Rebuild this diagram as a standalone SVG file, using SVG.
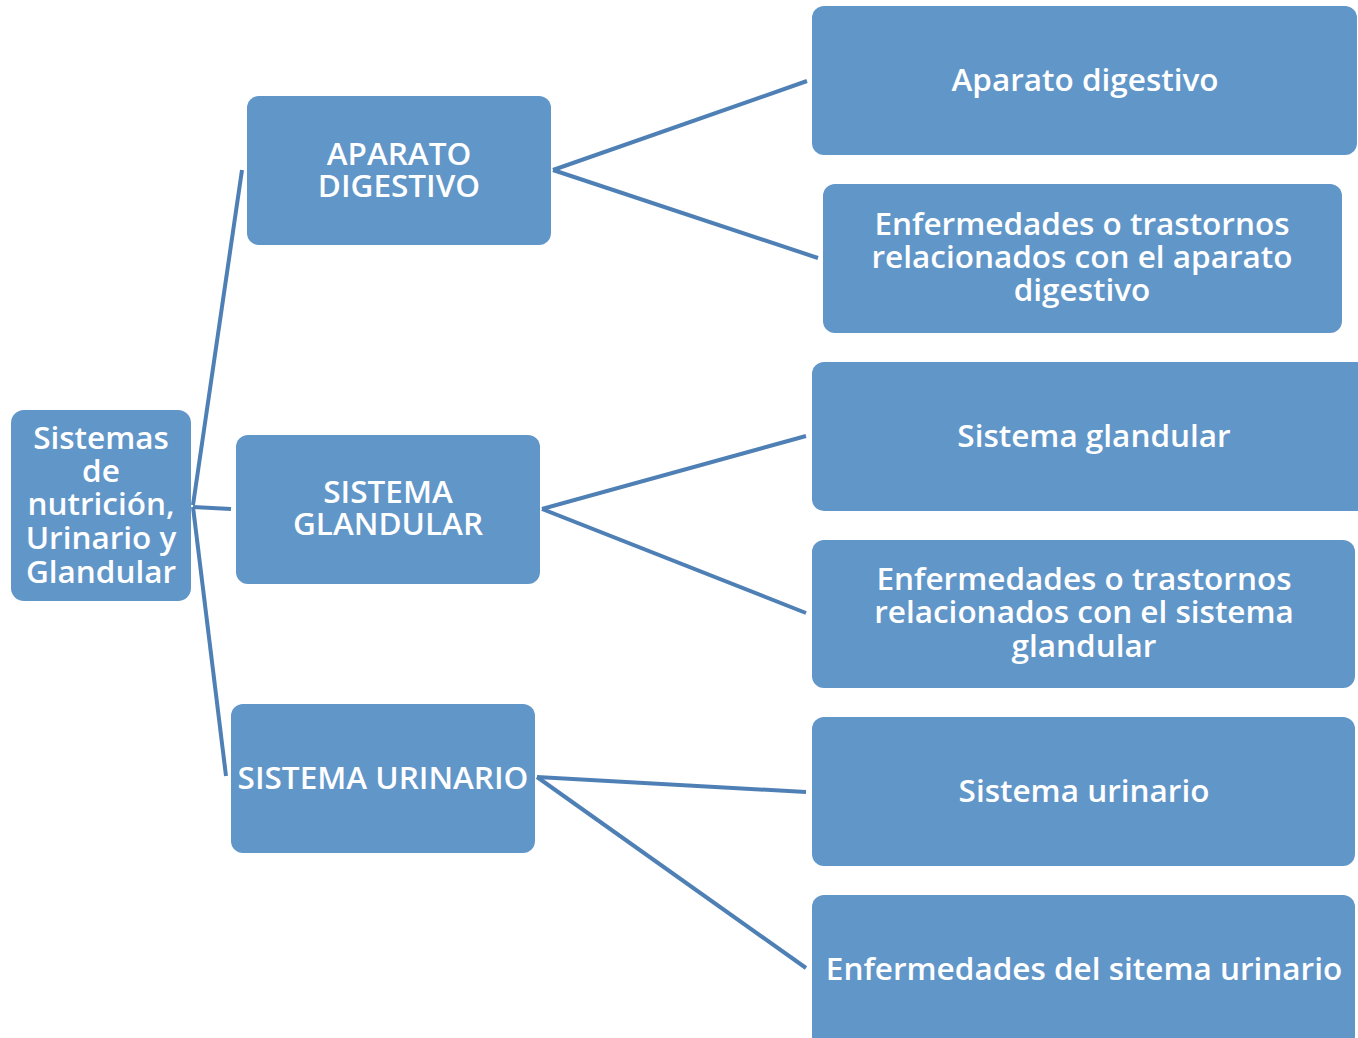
<svg xmlns="http://www.w3.org/2000/svg" width="1358" height="1038" viewBox="0 0 1358 1038">
<style>
.box{fill:#6196c9;}
.t{font-family:"Open Sans","Noto Sans",sans-serif;font-size:31.5px;font-weight:600;fill:#ffffff;text-anchor:middle;}
.c{stroke:#4f80b5;stroke-width:4;fill:none;stroke-linecap:butt;}
</style>
<rect width="1358" height="1038" fill="#ffffff"/>
<g id="connectors">
<line class="c" x1="193" y1="505" x2="242" y2="170"/>
<line class="c" x1="193" y1="507" x2="231" y2="509"/>
<line class="c" x1="193" y1="507" x2="226" y2="776"/>
<line class="c" x1="553" y1="170" x2="807" y2="81"/>
<line class="c" x1="553" y1="170" x2="818" y2="258"/>
<line class="c" x1="542" y1="509" x2="806" y2="436"/>
<line class="c" x1="542" y1="509" x2="806" y2="613"/>
<line class="c" x1="537" y1="777" x2="806" y2="792"/>
<line class="c" x1="537" y1="777" x2="806" y2="968"/>
</g>
<g id="root">
<rect class="box" x="11" y="410" width="180" height="191" rx="13"/>
<text class="t" x="101" y="449">Sistemas</text>
<text class="t" x="101" y="482">de</text>
<text class="t" x="101" y="515">nutrición,</text>
<text class="t" x="101" y="549">Urinario y</text>
<text class="t" x="101" y="583">Glandular</text>
</g>
<g id="aparato">
<rect class="box" x="247" y="96" width="304" height="149" rx="12"/>
<text class="t" x="399" y="165">APARATO</text>
<text class="t" x="399" y="197">DIGESTIVO</text>
</g>
<g id="glandular">
<rect class="box" x="236" y="435" width="304" height="149" rx="12"/>
<text class="t" x="388" y="503">SISTEMA</text>
<text class="t" x="388" y="535">GLANDULAR</text>
</g>
<g id="urinario">
<rect class="box" x="231" y="704" width="304" height="149" rx="12"/>
<text class="t" x="383" y="789">SISTEMA URINARIO</text>
</g>
<g id="aparato-digestivo">
<rect class="box" x="812" y="6" width="545" height="149" rx="12"/>
<text class="t" x="1085" y="91">Aparato digestivo</text>
</g>
<g id="enf-digestivo">
<rect class="box" x="823" y="184" width="519" height="149" rx="12"/>
<text class="t" x="1082" y="235">Enfermedades o trastornos</text>
<text class="t" x="1082" y="268">relacionados con el aparato</text>
<text class="t" x="1082" y="301">digestivo</text>
</g>
<g id="sistema-glandular">
<rect class="box" x="812" y="362" width="564" height="149" rx="12"/>
<text class="t" x="1094" y="447">Sistema glandular</text>
</g>
<g id="enf-glandular">
<rect class="box" x="812" y="540" width="543" height="148" rx="12"/>
<text class="t" x="1084" y="590">Enfermedades o trastornos</text>
<text class="t" x="1084" y="623">relacionados con el sistema</text>
<text class="t" x="1084" y="657">glandular</text>
</g>
<g id="sistema-urinario">
<rect class="box" x="812" y="717" width="543" height="149" rx="12"/>
<text class="t" x="1084" y="802">Sistema urinario</text>
</g>
<g id="enf-urinario">
<rect class="box" x="812" y="895" width="543" height="160" rx="12"/>
<text class="t" x="1084" y="980">Enfermedades del sitema urinario</text>
</g>
</svg>
